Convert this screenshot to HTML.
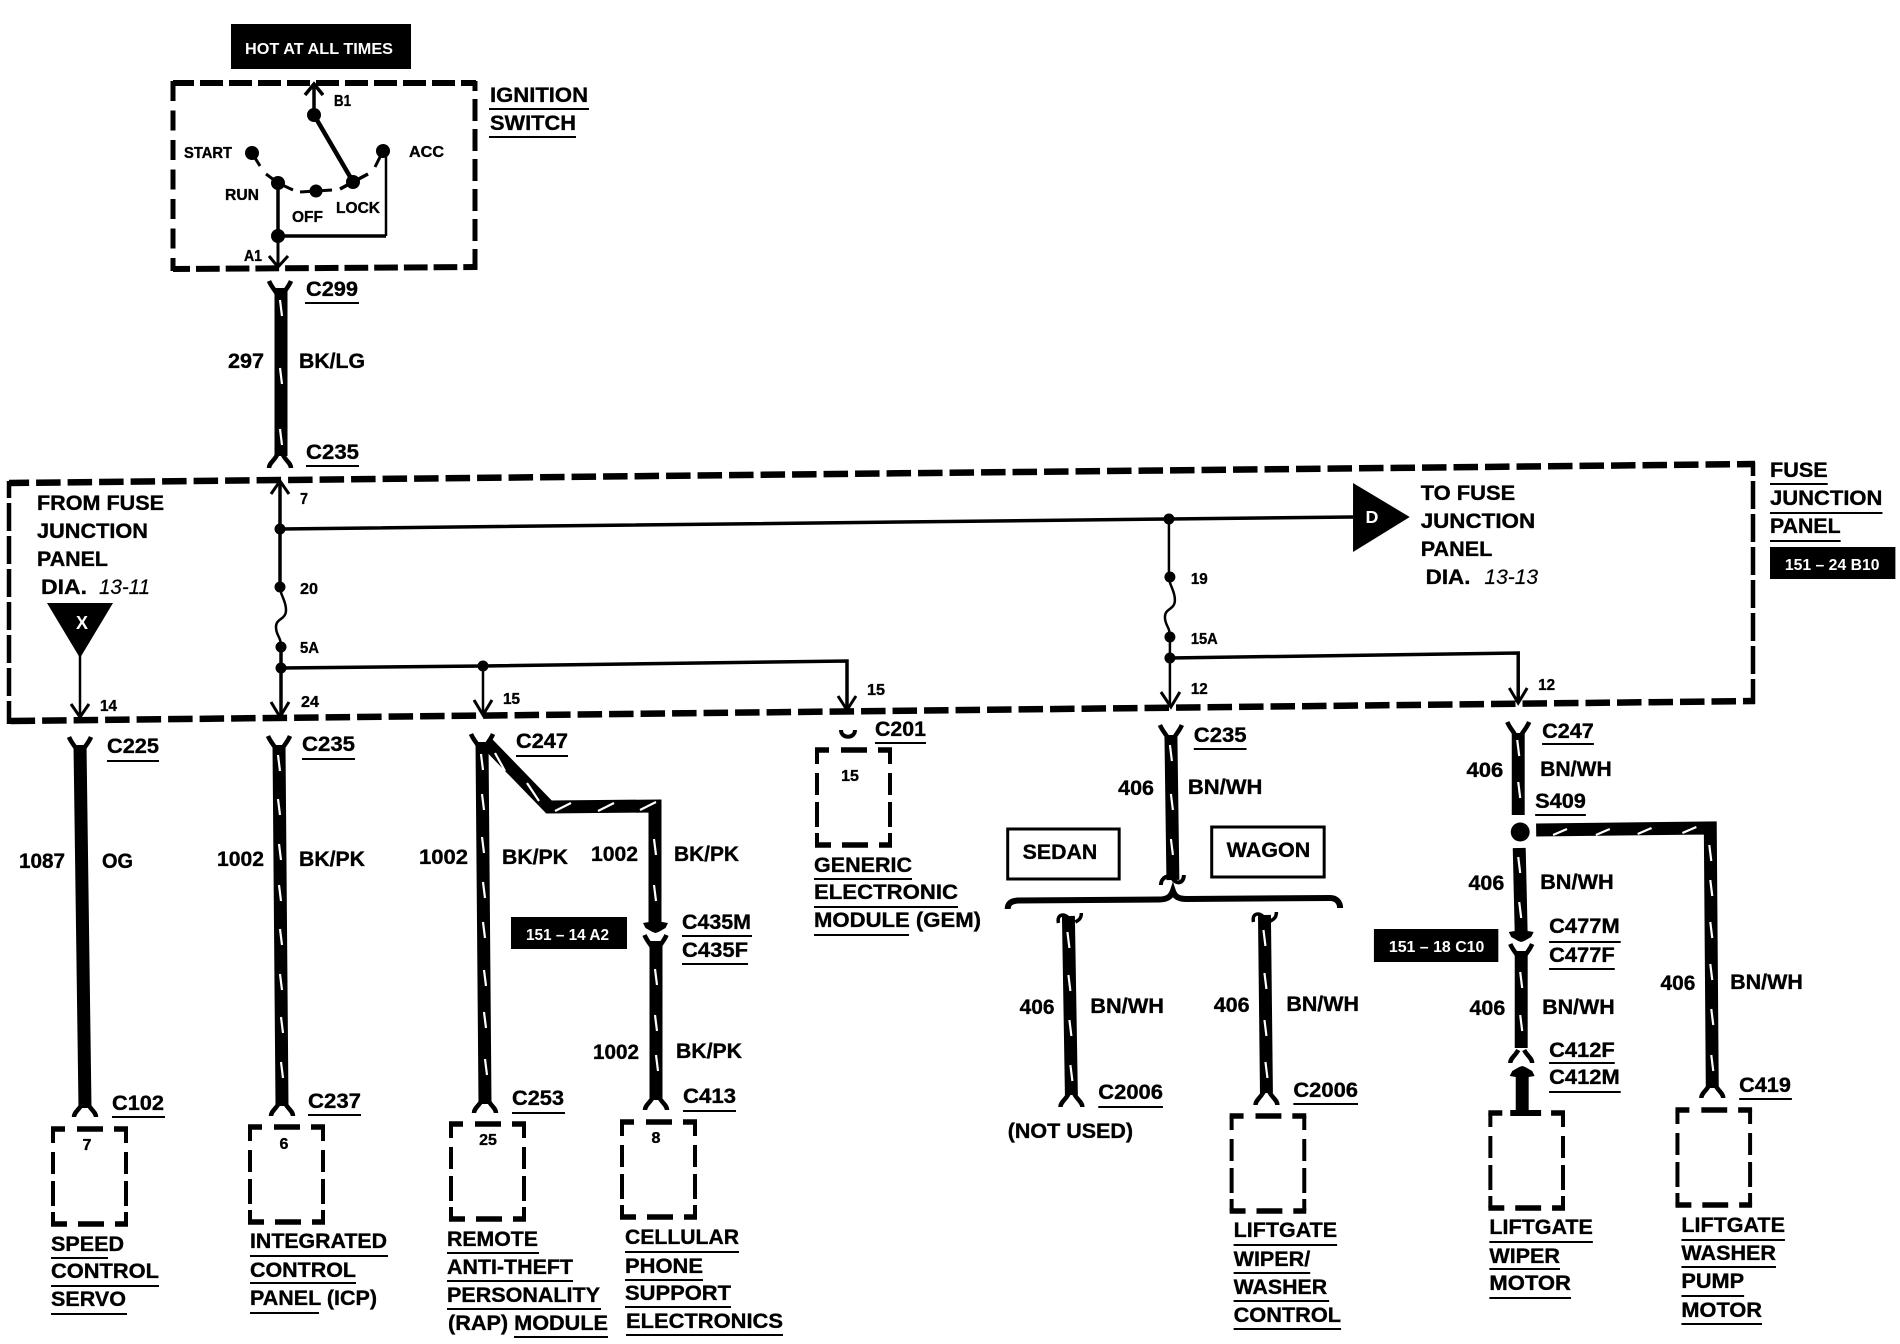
<!DOCTYPE html>
<html>
<head>
<meta charset="utf-8">
<title>Wiring diagram</title>
<style>
html,body{margin:0;padding:0;background:#fff;}
svg{display:block;}
text{font-family:"Liberation Sans",Arial,sans-serif;font-weight:bold;fill:#000;stroke:#000;stroke-width:.35px;}
.l{font-size:21px;}
.n{font-size:21px;}
.s{font-size:16px;}
.i{font-style:italic;font-weight:normal;font-size:21px;stroke-width:.2px;}
.w{font-size:16px;fill:#fff;stroke:none;font-weight:bold;}
</style>
</head>
<body>
<svg width="1900" height="1344" viewBox="0 0 1900 1344" xmlns="http://www.w3.org/2000/svg">
<defs>
<g id="mb" fill="none" stroke="#000">
<path stroke-width="5.5" d="M-2,0H12M24,0H50M61,0H75M-2,95H14M25,95H51M62,95H75"/>
<path stroke-width="4" d="M0,0V14M0,23V45M0,52V77M0,83V95M73,0V14M73,23V45M73,52V77M73,83V95"/>
</g>
<path id="fu" fill="none" stroke="#000" stroke-width="4.5" d="M-11,0C-9,5 -6,8 -3,13M11,0C9,5 6,8 3,13"/>
<path id="fd" fill="none" stroke="#000" stroke-width="4.5" d="M-11,0C-11,-5 -6,-7 -3,-13M11,0C11,-5 6,-7 3,-13"/>
<path id="ah" fill="#000" d="M-12.5,-10L-6.5,-11L6.5,-11L12.5,-10L10,-5L3,-1L0,0L-3,-1L-10,-5Z"/>
</defs>
<rect width="1900" height="1344" fill="#fff"/>

<!-- Hot box -->
<rect x="231" y="24" width="180" height="45" fill="#000"/>
<text class="w" x="245" y="54" textLength="148" lengthAdjust="spacingAndGlyphs">HOT AT ALL TIMES</text>

<!-- Ignition switch box -->
<g fill="none" stroke="#000">
<path stroke-width="6" stroke-dasharray="23 6" stroke-dashoffset="8" d="M476,83H173"/>
<path stroke-width="6" stroke-dasharray="23.7 6" stroke-dashoffset="10" d="M477,267L173,269"/>
<path stroke-width="5" stroke-dasharray="20 9.5" d="M173,81V271"/>
<path stroke-width="5" stroke-dasharray="22 8" stroke-dashoffset="12" d="M475,81V270"/>
<path stroke-width="3.5" d="M314,115V85M305,95L314,84L323,95"/>
<path stroke-width="4.5" d="M314,115L352,180"/>
<path stroke-width="3" d="M252,153L260,166"/>
<path stroke-width="3" d="M266,174L278,183L293,190"/>
<path stroke-width="3" d="M300,192L332,190"/>
<path stroke-width="3.5" d="M340,189L353,182L368,174"/>
<path stroke-width="3" d="M383,151L375,167"/>
<path stroke-width="3.5" d="M278,183V236H386"/>
<path stroke-width="2.5" d="M386,236V155"/>
<path stroke-width="3" d="M278,236V266M269,256L278,267L288,256"/>
</g>
<g fill="#000">
<circle cx="314" cy="115" r="7"/>
<circle cx="252" cy="153" r="7"/>
<circle cx="278" cy="183" r="7"/>
<circle cx="316" cy="191" r="6.5"/>
<circle cx="353" cy="182" r="7"/>
<circle cx="383" cy="151" r="7"/>
<circle cx="278" cy="236" r="7"/>
</g>
<text class="s" x="184" y="158" textLength="48" lengthAdjust="spacingAndGlyphs">START</text>
<text class="s" x="409" y="157" textLength="35" lengthAdjust="spacingAndGlyphs">ACC</text>
<text class="s" x="225" y="200" textLength="34" lengthAdjust="spacingAndGlyphs">RUN</text>
<text class="s" x="292" y="222" textLength="31" lengthAdjust="spacingAndGlyphs">OFF</text>
<text class="s" x="336" y="213" textLength="44" lengthAdjust="spacingAndGlyphs">LOCK</text>
<text class="s" x="244" y="261" textLength="18" lengthAdjust="spacingAndGlyphs">A1</text>
<text class="s" x="334" y="106" textLength="17" lengthAdjust="spacingAndGlyphs">B1</text>
<text class="l" x="490" y="102" textLength="98" lengthAdjust="spacingAndGlyphs">IGNITION</text>
<text class="l" x="490" y="130" textLength="86" lengthAdjust="spacingAndGlyphs">SWITCH</text>

<!-- Big fuse junction panel box -->
<g fill="none" stroke="#000">
<path stroke-width="6.5" stroke-dasharray="24.5 7" stroke-dashoffset="6.5" d="M1755,464L9,483"/>
<path stroke-width="6.5" stroke-dasharray="24.5 7" stroke-dashoffset="12.5" d="M1755,701L9,721"/>
<path stroke-width="4.5" stroke-dasharray="28 5" stroke-dashoffset="11" d="M9,481V724"/>
<path stroke-width="4.5" stroke-dasharray="28 5" stroke-dashoffset="14" d="M1753,462V704"/>
</g>

<!-- Internal panel lines (left) -->
<g fill="none" stroke="#000">
<path stroke-width="3.5" d="M280,482V587"/>
<path stroke-width="3" d="M271,494L280,481L289,494"/>
<path stroke-width="3.5" d="M280,529L1169,519L1353,517"/>
<path stroke-width="2.5" d="M280,587C280,595 286,600 286,610C286,620 276,618 276,627C276,636 281,636 281,647"/>
<path stroke-width="3.5" d="M281,647V716"/>
<path stroke-width="3" d="M271,702L280,717L289,702"/>
<path stroke-width="3.5" d="M281,668L483,666L847,661V708"/>
<path stroke-width="2.5" d="M483,666V714"/>
<path stroke-width="3" d="M474,700L483,715L492,700M838,696L847,710L856,696"/>
<path stroke-width="2.5" d="M80,655V716"/>
<path stroke-width="3" d="M71,704L80,717L89,704"/>
</g>
<g fill="#000">
<circle cx="280" cy="529" r="5.5"/>
<circle cx="280" cy="587" r="5.5"/>
<circle cx="281" cy="647" r="5.5"/>
<circle cx="281" cy="668" r="5.5"/>
<circle cx="483" cy="666" r="5.5"/>
<polygon points="47,603 113,603 80,658"/>
</g>
<text x="82" y="629" text-anchor="middle" font-size="18" style="fill:#fff;stroke:none">X</text>

<text class="s" x="300" y="504" textLength="8" lengthAdjust="spacingAndGlyphs">7</text>
<text class="s" x="300" y="594" textLength="18" lengthAdjust="spacingAndGlyphs">20</text>
<text class="s" x="300" y="653" textLength="19" lengthAdjust="spacingAndGlyphs">5A</text>
<text class="s" x="301" y="707" textLength="18" lengthAdjust="spacingAndGlyphs">24</text>
<text class="s" x="503" y="704" textLength="17" lengthAdjust="spacingAndGlyphs">15</text>
<text class="s" x="867" y="695" textLength="18" lengthAdjust="spacingAndGlyphs">15</text>
<text class="s" x="100" y="711" textLength="17" lengthAdjust="spacingAndGlyphs">14</text>

<text class="l" x="37" y="510" textLength="127" lengthAdjust="spacingAndGlyphs">FROM FUSE</text>
<text class="l" x="37" y="538" textLength="111" lengthAdjust="spacingAndGlyphs">JUNCTION</text>
<text class="l" x="37" y="566" textLength="71" lengthAdjust="spacingAndGlyphs">PANEL</text>
<text class="l" x="41" y="594" textLength="46" lengthAdjust="spacingAndGlyphs">DIA.</text>
<text class="i" x="99" y="594" textLength="51" lengthAdjust="spacingAndGlyphs">13-11</text>

<!-- Left wires -->
<g fill="none" stroke="#000" stroke-width="13">
<path d="M281,288V456"/>
<path d="M80,745L85,1108"/>
<path d="M279,745L282,1106"/>
<path d="M482,742L485,1104"/>
<path stroke-linejoin="miter" d="M486,742L549,807L655,806V925"/>
<path d="M656,941V1100"/>
</g>
<use href="#ah" x="655.5" y="933"/>
<g stroke="#fff" stroke-width="2.2" fill="none">
<path d="M280,300L282,316M280,368L282,384M280,429L282,445"/>
<path d="M278,755L280,771M278,799L280,815M279,844L281,860M279,885L281,901M280,929L282,945M280,974L282,990M281,1017L283,1033M281,1062L283,1078"/>
<path d="M481,754L483,770M482,794L484,810M482,837L484,853M483,882L485,898M483,922L485,938M484,970L486,986M484,1012L486,1028M485,1059L487,1075"/>
<path d="M495,753L505,771M527,783L539,801M555,811L571,803M598,811L614,803M640,810L656,802"/>
<path d="M654,839L656,855M654,885L656,901M655,969L657,985M655,1015L657,1031M656,1055L658,1071"/>
</g>
<use href="#fu" x="280" y="281"/>
<use href="#fd" x="280" y="468"/>
<use href="#fu" x="80" y="737"/>
<use href="#fd" x="85" y="1117"/>
<use href="#fu" x="279" y="736"/>
<use href="#fd" x="282" y="1116"/>
<use href="#fu" x="482" y="734"/>
<use href="#fd" x="485" y="1113"/>
<use href="#fu" x="655.5" y="935"/>
<use href="#fd" x="656" y="1110"/>
<path fill="none" stroke="#000" stroke-width="4" d="M841,730C841,739 855,739 855,730"/>

<!-- Left module boxes -->
<use href="#mb" x="53" y="1129"/>
<use href="#mb" x="250" y="1127"/>
<use href="#mb" x="451" y="1124"/>
<use href="#mb" x="622" y="1122"/>
<use href="#mb" x="817" y="750"/>
<text class="s" x="87" y="1150" text-anchor="middle">7</text>
<text class="s" x="284" y="1149" text-anchor="middle">6</text>
<text class="s" x="488" y="1145" text-anchor="middle">25</text>
<text class="s" x="656" y="1143" text-anchor="middle">8</text>
<text class="s" x="850" y="781" text-anchor="middle">15</text>

<rect x="511" y="917" width="116" height="32" fill="#000"/>
<text class="w" x="526" y="940" textLength="83" lengthAdjust="spacingAndGlyphs">151 – 14 A2</text>

<text class="n" x="306" y="296" textLength="52" lengthAdjust="spacingAndGlyphs">C299</text>
<text class="n" x="306" y="459" textLength="53" lengthAdjust="spacingAndGlyphs">C235</text>
<text class="n" x="107" y="753" textLength="52" lengthAdjust="spacingAndGlyphs">C225</text>
<text class="n" x="302" y="751" textLength="53" lengthAdjust="spacingAndGlyphs">C235</text>
<text class="n" x="516" y="748" textLength="52" lengthAdjust="spacingAndGlyphs">C247</text>
<text class="n" x="875" y="736" textLength="51" lengthAdjust="spacingAndGlyphs">C201</text>
<text class="n" x="682" y="929" textLength="69" lengthAdjust="spacingAndGlyphs">C435M</text>
<text class="n" x="682" y="957" textLength="66" lengthAdjust="spacingAndGlyphs">C435F</text>
<text class="n" x="112" y="1110" textLength="52" lengthAdjust="spacingAndGlyphs">C102</text>
<text class="n" x="308" y="1108" textLength="53" lengthAdjust="spacingAndGlyphs">C237</text>
<text class="n" x="512" y="1105" textLength="52" lengthAdjust="spacingAndGlyphs">C253</text>
<text class="n" x="683" y="1103" textLength="53" lengthAdjust="spacingAndGlyphs">C413</text>

<text class="n" x="228" y="368" textLength="36" lengthAdjust="spacingAndGlyphs">297</text>
<text class="n" x="299" y="368" textLength="66" lengthAdjust="spacingAndGlyphs">BK/LG</text>
<text class="n" x="19" y="868" textLength="46" lengthAdjust="spacingAndGlyphs">1087</text>
<text class="n" x="102" y="868" textLength="31" lengthAdjust="spacingAndGlyphs">OG</text>
<text class="n" x="217" y="866" textLength="47" lengthAdjust="spacingAndGlyphs">1002</text>
<text class="n" x="299" y="866" textLength="66" lengthAdjust="spacingAndGlyphs">BK/PK</text>
<text class="n" x="419" y="864" textLength="49" lengthAdjust="spacingAndGlyphs">1002</text>
<text class="n" x="502" y="864" textLength="66" lengthAdjust="spacingAndGlyphs">BK/PK</text>
<text class="n" x="591" y="861" textLength="47" lengthAdjust="spacingAndGlyphs">1002</text>
<text class="n" x="674" y="861" textLength="65" lengthAdjust="spacingAndGlyphs">BK/PK</text>
<text class="n" x="593" y="1059" textLength="46" lengthAdjust="spacingAndGlyphs">1002</text>
<text class="n" x="676" y="1058" textLength="66" lengthAdjust="spacingAndGlyphs">BK/PK</text>

<text class="l" x="814" y="872" textLength="98" lengthAdjust="spacingAndGlyphs">GENERIC</text>
<text class="l" x="814" y="899" textLength="144" lengthAdjust="spacingAndGlyphs">ELECTRONIC</text>
<text class="l" x="814" y="927" textLength="167" lengthAdjust="spacingAndGlyphs">MODULE (GEM)</text>
<text class="l" x="51" y="1251" textLength="73" lengthAdjust="spacingAndGlyphs">SPEED</text>
<text class="l" x="51" y="1278" textLength="108" lengthAdjust="spacingAndGlyphs">CONTROL</text>
<text class="l" x="51" y="1306" textLength="75" lengthAdjust="spacingAndGlyphs">SERVO</text>
<text class="l" x="250" y="1248" textLength="137" lengthAdjust="spacingAndGlyphs">INTEGRATED</text>
<text class="l" x="250" y="1277" textLength="106" lengthAdjust="spacingAndGlyphs">CONTROL</text>
<text class="l" x="250" y="1305" textLength="127" lengthAdjust="spacingAndGlyphs">PANEL (ICP)</text>
<text class="l" x="447" y="1246" textLength="91" lengthAdjust="spacingAndGlyphs">REMOTE</text>
<text class="l" x="447" y="1274" textLength="126" lengthAdjust="spacingAndGlyphs">ANTI-THEFT</text>
<text class="l" x="447" y="1302" textLength="153" lengthAdjust="spacingAndGlyphs">PERSONALITY</text>
<text class="l" x="448" y="1330" textLength="160" lengthAdjust="spacingAndGlyphs">(RAP) MODULE</text>
<text class="l" x="625" y="1244" textLength="114" lengthAdjust="spacingAndGlyphs">CELLULAR</text>
<text class="l" x="625" y="1273" textLength="78" lengthAdjust="spacingAndGlyphs">PHONE</text>
<text class="l" x="625" y="1300" textLength="106" lengthAdjust="spacingAndGlyphs">SUPPORT</text>
<text class="l" x="626" y="1328" textLength="157" lengthAdjust="spacingAndGlyphs">ELECTRONICS</text>

<path fill="none" stroke="#000" stroke-width="2" d="
M489,109H589M489,137H576
M305,303H359M306,466H359
M107,761H159M302,759H355M516,756H568M875,743H926
M682,936H752M682,964H748
M112,1117H165M308,1115H361M512,1113H565M683,1111H736
M814,879H912M814,907H958M814,935H909
M51,1258H108M51,1286H159M51,1314H127
M250,1256H388M250,1283H356M250,1313H319
M447,1253H539M447,1281H573M447,1309H601M514,1337H608
M625,1252H739M625,1280H703M625,1307H731M626,1335H783
"/>

<!-- RIGHT HALF -->
<g transform="matrix(.99515 0 0 1 4.6 0)">
<g fill="none" stroke="#000">
<path stroke-width="2.5" d="M1170,519V577"/>
<path stroke-width="2.5" d="M1170,577C1170,585 1176,590 1176,600C1176,610 1166,608 1166,617C1166,626 1171,626 1171,637"/>
<path stroke-width="2.5" d="M1171,637V706"/>
<path stroke-width="3.5" d="M1171,658L1521,653V702"/>
<path stroke-width="3" d="M1162,692L1172,707L1181,692M1512,688L1521,703L1530,688"/>
</g>
<g fill="#000">
<circle cx="1170" cy="519" r="5.5"/>
<circle cx="1171" cy="577" r="5.5"/>
<circle cx="1171" cy="637" r="5.5"/>
<circle cx="1171" cy="658" r="5.5"/>
<polygon points="1355,483 1355,552 1412,517"/>
</g>
<text x="1374" y="523" text-anchor="middle" font-size="18" style="fill:#fff;stroke:none">D</text>

<text class="s" x="1192" y="584" textLength="17" lengthAdjust="spacingAndGlyphs">19</text>
<text class="s" x="1192" y="644" textLength="27" lengthAdjust="spacingAndGlyphs">15A</text>
<text class="s" x="1192" y="694" textLength="17" lengthAdjust="spacingAndGlyphs">12</text>
<text class="s" x="1541" y="690" textLength="17" lengthAdjust="spacingAndGlyphs">12</text>

<text class="l" x="1423" y="500" textLength="95" lengthAdjust="spacingAndGlyphs">TO FUSE</text>
<text class="l" x="1423" y="528" textLength="115" lengthAdjust="spacingAndGlyphs">JUNCTION</text>
<text class="l" x="1423" y="556" textLength="72" lengthAdjust="spacingAndGlyphs">PANEL</text>
<text class="l" x="1428" y="584" textLength="45" lengthAdjust="spacingAndGlyphs">DIA.</text>
<text class="i" x="1487" y="584" textLength="54" lengthAdjust="spacingAndGlyphs">13-13</text>
<text class="l" x="1774" y="477" textLength="58" lengthAdjust="spacingAndGlyphs">FUSE</text>
<text class="l" x="1774" y="505" textLength="113" lengthAdjust="spacingAndGlyphs">JUNCTION</text>
<text class="l" x="1774" y="533" textLength="71" lengthAdjust="spacingAndGlyphs">PANEL</text>
<rect x="1774" y="547" width="126" height="32" fill="#000"/>
<text class="w" x="1789" y="570" textLength="95" lengthAdjust="spacingAndGlyphs">151 – 24 B10</text>

<g fill="none" stroke="#000" stroke-width="13">
<path d="M1172,735L1174,880"/>
<path d="M1069,916L1072,1095"/>
<path d="M1266,915L1268,1093"/>
<path d="M1521,733V815"/>
<path stroke-linejoin="miter" d="M1539,830L1714,828L1716,1088"/>
<path d="M1522,848L1524,934"/>
<path d="M1524,951V1048"/>
<path d="M1525,1074V1113"/>
</g>
<use href="#ah" x="1524" y="942"/>
<use href="#ah" transform="translate(1525,1066) scale(1,-1)"/>
<g stroke="#fff" stroke-width="2.2" fill="none">
<path d="M1171,745L1173,761M1172,794L1174,810M1172,839L1174,855"/>
<path d="M1068,932L1070,948M1069,975L1071,991M1070,1020L1072,1036M1071,1065L1073,1081"/>
<path d="M1265,930L1267,946M1266,973L1268,989M1266,1020L1268,1036M1267,1062L1269,1078"/>
<path d="M1520,740L1522,756M1521,782L1523,798"/>
<path d="M1521,857L1523,873M1522,902L1524,918M1523,972L1525,988M1523,1015L1525,1031"/>
<path d="M1556,835L1570,829M1599,835L1613,829M1641,834L1655,828M1686,833L1700,827"/>
<path d="M1713,845L1715,861M1714,880L1716,896M1714,922L1716,938M1714,964L1716,980M1715,1009L1717,1025M1715,1055L1717,1071"/>
</g>
<circle cx="1523" cy="832" r="9.5" fill="#000"/>

<use href="#fu" x="1172" y="725"/>
<use href="#fd" x="1072" y="1107"/>
<use href="#fd" x="1268" y="1105"/>
<use href="#fu" x="1521" y="722"/>
<use href="#fd" x="1716" y="1098"/>
<use href="#fu" x="1524" y="944"/>
<use href="#fd" x="1524" y="1063"/>
<g fill="none" stroke="#000">
<path stroke-width="3.5" d="M1059,923C1057,914 1065,913 1069,918M1076,922C1080,920 1082,918 1082,913"/>
<path stroke-width="3.5" d="M1255,922C1253,913 1261,912 1265,917M1272,921C1276,919 1278,917 1278,912"/>
<path stroke-width="4" d="M1162,885C1162,877 1170,874 1174,879C1177,884 1185,884 1185,875"/>
<path stroke-width="6" d="M1008,909C1008,903 1012,901 1018,900.5L1160,899.5C1168,899.5 1172,897 1174,891C1176,897 1180,899 1188,899L1332,898C1338,898 1342,902 1342,908"/>
</g>

<use href="#mb" x="1233" y="1116"/>
<use href="#mb" x="1493" y="1113"/>
<use href="#mb" x="1681" y="1110"/>
<path stroke="#000" stroke-width="6" d="M1513,1113H1544"/>

<rect x="1008" y="829" width="112" height="50" fill="#fff" stroke="#000" stroke-width="3"/>
<rect x="1213" y="827" width="113" height="50" fill="#fff" stroke="#000" stroke-width="3"/>
<text class="l" x="1023" y="859" textLength="75" lengthAdjust="spacingAndGlyphs">SEDAN</text>
<text class="l" x="1228" y="857" textLength="84" lengthAdjust="spacingAndGlyphs">WAGON</text>

<rect x="1376" y="929" width="125" height="33" fill="#000"/>
<text class="w" x="1391" y="952" textLength="96" lengthAdjust="spacingAndGlyphs">151 – 18 C10</text>

<text class="n" x="1195" y="742" textLength="53" lengthAdjust="spacingAndGlyphs">C235</text>
<text class="n" x="1545" y="738" textLength="52" lengthAdjust="spacingAndGlyphs">C247</text>
<text class="n" x="1538" y="808" textLength="51" lengthAdjust="spacingAndGlyphs">S409</text>
<text class="n" x="1552" y="933" textLength="71" lengthAdjust="spacingAndGlyphs">C477M</text>
<text class="n" x="1552" y="962" textLength="66" lengthAdjust="spacingAndGlyphs">C477F</text>
<text class="n" x="1552" y="1057" textLength="66" lengthAdjust="spacingAndGlyphs">C412F</text>
<text class="n" x="1552" y="1084" textLength="71" lengthAdjust="spacingAndGlyphs">C412M</text>
<text class="n" x="1099" y="1099" textLength="65" lengthAdjust="spacingAndGlyphs">C2006</text>
<text class="n" x="1295" y="1097" textLength="65" lengthAdjust="spacingAndGlyphs">C2006</text>
<text class="n" x="1743" y="1092" textLength="52" lengthAdjust="spacingAndGlyphs">C419</text>

<text class="n" x="1119" y="795" textLength="36" lengthAdjust="spacingAndGlyphs">406</text>
<text class="n" x="1189" y="794" textLength="75" lengthAdjust="spacingAndGlyphs">BN/WH</text>
<text class="n" x="1469" y="777" textLength="37" lengthAdjust="spacingAndGlyphs">406</text>
<text class="n" x="1543" y="776" textLength="72" lengthAdjust="spacingAndGlyphs">BN/WH</text>
<text class="n" x="1471" y="890" textLength="36" lengthAdjust="spacingAndGlyphs">406</text>
<text class="n" x="1543" y="889" textLength="74" lengthAdjust="spacingAndGlyphs">BN/WH</text>
<text class="n" x="1472" y="1015" textLength="36" lengthAdjust="spacingAndGlyphs">406</text>
<text class="n" x="1545" y="1014" textLength="73" lengthAdjust="spacingAndGlyphs">BN/WH</text>
<text class="n" x="1020" y="1014" textLength="35" lengthAdjust="spacingAndGlyphs">406</text>
<text class="n" x="1091" y="1013" textLength="74" lengthAdjust="spacingAndGlyphs">BN/WH</text>
<text class="n" x="1215" y="1012" textLength="36" lengthAdjust="spacingAndGlyphs">406</text>
<text class="n" x="1288" y="1011" textLength="73" lengthAdjust="spacingAndGlyphs">BN/WH</text>
<text class="n" x="1664" y="990" textLength="35" lengthAdjust="spacingAndGlyphs">406</text>
<text class="n" x="1734" y="989" textLength="73" lengthAdjust="spacingAndGlyphs">BN/WH</text>

<text class="l" x="1008" y="1138" textLength="126" lengthAdjust="spacingAndGlyphs">(NOT USED)</text>
<text class="l" x="1235" y="1237" textLength="104" lengthAdjust="spacingAndGlyphs">LIFTGATE</text>
<text class="l" x="1235" y="1266" textLength="77" lengthAdjust="spacingAndGlyphs">WIPER/</text>
<text class="l" x="1235" y="1294" textLength="94" lengthAdjust="spacingAndGlyphs">WASHER</text>
<text class="l" x="1235" y="1322" textLength="108" lengthAdjust="spacingAndGlyphs">CONTROL</text>
<text class="l" x="1492" y="1234" textLength="104" lengthAdjust="spacingAndGlyphs">LIFTGATE</text>
<text class="l" x="1492" y="1263" textLength="71" lengthAdjust="spacingAndGlyphs">WIPER</text>
<text class="l" x="1492" y="1290" textLength="82" lengthAdjust="spacingAndGlyphs">MOTOR</text>
<text class="l" x="1685" y="1232" textLength="104" lengthAdjust="spacingAndGlyphs">LIFTGATE</text>
<text class="l" x="1685" y="1260" textLength="95" lengthAdjust="spacingAndGlyphs">WASHER</text>
<text class="l" x="1685" y="1288" textLength="63" lengthAdjust="spacingAndGlyphs">PUMP</text>
<text class="l" x="1685" y="1317" textLength="81" lengthAdjust="spacingAndGlyphs">MOTOR</text>

<path fill="none" stroke="#000" stroke-width="2" d="
M1195,749H1248M1545,744H1597M1538,815H1589
M1552,942H1624M1552,969H1618M1552,1063H1618M1552,1092H1624
M1099,1107H1164M1295,1104H1360M1743,1099H1796
M1774,484H1832M1774,513H1887M1774,541H1845
M1235,1245H1339M1235,1273H1312M1235,1301H1331M1235,1329H1343
M1492,1242H1596M1492,1269H1563M1492,1298H1574
M1685,1240H1789M1685,1267H1780M1685,1296H1748M1685,1324H1766
"/>
</g>
</svg>
</body>
</html>
